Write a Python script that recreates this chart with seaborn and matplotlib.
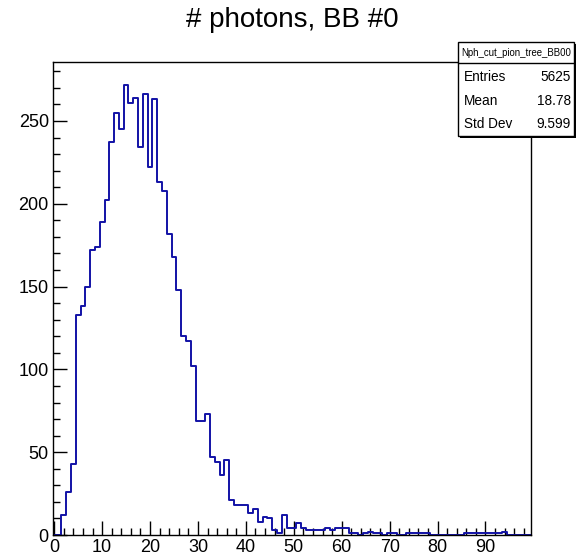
import numpy as np
import pandas as pd
import matplotlib
matplotlib.use("Agg")
import matplotlib.pyplot as plt
import seaborn as sns
from matplotlib.patches import Rectangle
from matplotlib.lines import Line2D
from matplotlib.ticker import MultipleLocator, FixedLocator

# ---------------- data ----------------
title = "# photons, BB #0"
hist_name = "Nph_cut_pion_tree_BB00"
bin_centers = list(range(100))
counts = [
    0, 0, 12, 26, 43, 133, 138, 150, 172, 174,
    189, 202, 237, 255, 245, 272, 261, 264, 234, 266,
    222, 263, 213, 208, 182, 168, 148, 120, 117, 102,
    69, 69, 73, 47, 44, 36, 45, 21, 18, 18,
    18, 13, 16, 8, 11, 10, 3, 1, 12, 4,
    4, 7, 4, 3, 3, 3, 3, 4, 3, 4,
    4, 4, 1, 1, 0, 1, 2, 1, 1, 0,
    1, 1, 0, 0, 1, 1, 1, 1, 1, 0,
    0, 0, 0, 0, 0, 0, 1, 1, 1, 1,
    1, 1, 1, 1, 2, 0, 0, 0, 0, 0,
]
x_ticks = [0, 10, 20, 30, 40, 50, 60, 70, 80, 90]
y_ticks = [0, 50, 100, 150, 200, 250]
stats_labels = ["Entries", "Mean", "Std Dev"]
stats_values = ["5625", "18.78", "9.599"]

# ---------------- style ----------------
sns.set_theme(style="white")
plt.rcParams["font.family"] = ["Liberation Sans", "DejaVu Sans"]

W, H = 576, 560
fig = plt.figure(figsize=(W / 100, H / 100), dpi=100)
fig.patch.set_facecolor("white")

ax_l, ax_r, ax_t, ax_b = 53, 531, 62, 535
ax = fig.add_axes([ax_l / W, 1 - ax_b / H, (ax_r - ax_l) / W, (ax_b - ax_t) / H])

df = pd.DataFrame({"x": bin_centers, "n": counts})
sns.histplot(data=df, x="x", weights="n", binwidth=1,
             binrange=(bin_centers[0] - 0.5, bin_centers[-1] + 0.5),
             element="step", fill=False, color="#1212a6", linewidth=1.4, ax=ax)

ax.set_xlim(-0.25, 99.5)
ax.set_ylim(0, 1.05 * max(counts))
ax.set_xlabel("")
ax.set_ylabel("")

ax.xaxis.set_major_locator(FixedLocator(x_ticks))
ax.xaxis.set_minor_locator(MultipleLocator(2))
ax.yaxis.set_major_locator(FixedLocator(y_ticks))
ax.yaxis.set_minor_locator(MultipleLocator(10))
ax.set_xticklabels([str(v) for v in x_ticks])
ax.set_yticklabels([str(v) for v in y_ticks])

ax.tick_params(which="major", direction="in", length=10, width=1.0,
               color="black", labelsize=13, labelcolor="black", pad=3,
               bottom=True, left=True, top=False, right=False)
ax.tick_params(which="minor", direction="in", length=5, width=1.0,
               color="black", bottom=True, left=True, top=False, right=False)
ax.tick_params(axis="x", which="major", pad=3)
for s in ax.spines.values():
    s.set_visible(True)
    s.set_color("black")
    s.set_linewidth(1.0)

# title
fig.text(292 / W, 1 - 20 / H, title, ha="center", va="center",
         fontsize=20, color="black")

# ---------------- stats box ----------------
bx_l, bx_r, bx_t, bx_b = 458, 574, 42, 136
hdr_b = 63
def fx(px): return px / W
def fy(py): return 1 - py / H

shadow = Rectangle((fx(bx_l + 2), fy(bx_b + 2)), fx(bx_r - bx_l), (bx_b - bx_t) / H,
                   transform=fig.transFigure, facecolor="black", edgecolor="none",
                   zorder=5)
box = Rectangle((fx(bx_l), fy(bx_b)), fx(bx_r - bx_l), (bx_b - bx_t) / H,
                transform=fig.transFigure, facecolor="white", edgecolor="black",
                linewidth=1.0, zorder=6)
fig.patches.extend([shadow, box])
fig.lines.append(Line2D([fx(bx_l), fx(bx_r)], [fy(hdr_b), fy(hdr_b)],
                        transform=fig.transFigure, color="black", linewidth=1.0,
                        zorder=7))
fig.text(fx((bx_l + bx_r) / 2), fy(53), hist_name, ha="center", va="center",
         fontsize=6.9, color="black", zorder=8)
row_y = [77, 101, 124]
for lab, val, yy in zip(stats_labels, stats_values, row_y):
    fig.text(fx(464), fy(yy), lab, ha="left", va="center", fontsize=9.8,
             color="black", zorder=8)
    fig.text(fx(571), fy(yy), val, ha="right", va="center", fontsize=9.8,
             color="black", zorder=8)

fig.savefig("out.png", dpi=100, facecolor="white")
